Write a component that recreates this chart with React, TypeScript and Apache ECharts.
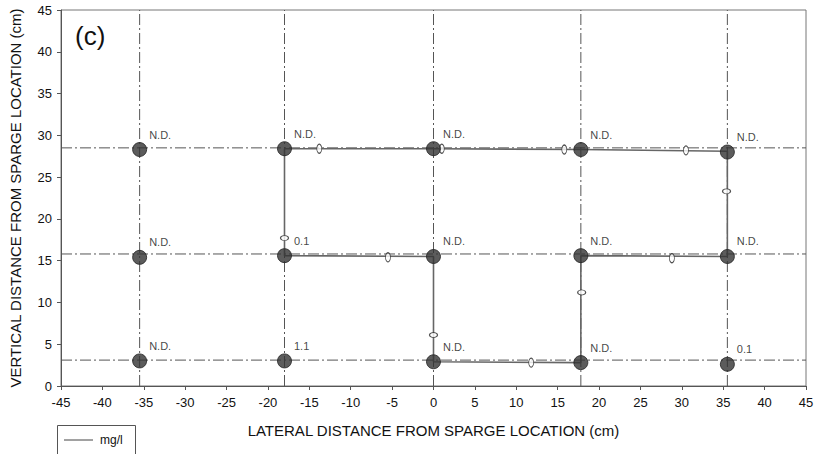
import React, { useEffect, useRef } from "react";
import * as echarts from "echarts";

// Sampling point grid (cm)
const pointX = [-35.5, -18, 0, 17.8, 35.5, -35.5, -18, 0, 17.8, 35.5, -35.5, -18, 0, 17.8, 35.5];
const pointY = [28.3, 28.4, 28.4, 28.3, 28.0, 15.4, 15.6, 15.5, 15.6, 15.5, 3.0, 3.0, 2.9, 2.8, 2.6];
const pointLabels = ["N.D.", "N.D.", "N.D.", "N.D.", "N.D.", "N.D.", "0.1", "N.D.", "N.D.", "N.D.", "N.D.", "1.1", "N.D.", "N.D.", "0.1"];

// Dash-dot reference lines
const refLineX = [-35.5, -18, 0, 17.8, 35.5];
const refLineY = [28.5, 15.8, 3.1];

// 0 mg/l contour path
const contourX = [-18, 0, 17.8, 35.5, 35.5, 17.8, 17.8, 0, 0, -18, -18];
const contourY = [28.4, 28.4, 28.3, 28.1, 15.5, 15.6, 2.8, 2.9, 15.5, 15.6, 28.4];

// "0" contour labels (ovals); orient: "h" on horizontal segments, "v" on vertical ones
const zeroX = [-13.8, 1.0, 15.8, 30.5, 35.4, 28.8, 17.9, 11.8, 0, -5.5, -18];
const zeroY = [28.4, 28.4, 28.3, 28.2, 23.3, 15.3, 11.2, 2.8, 6.1, 15.4, 17.7];
const zeroOrient = ["h", "h", "h", "h", "v", "h", "v", "h", "v", "h", "v"];

const xTicks = { min: -45, max: 45, interval: 5 };
const yTicks = { min: 0, max: 45, interval: 5 };

const FONT = "Liberation Sans, Arial, sans-serif";

export default function App() {
  const ref = useRef<HTMLDivElement>(null);
  useEffect(() => {
    if (!ref.current) return;
    document.body.style.margin = "0";
    const chart = echarts.init(ref.current, null, { renderer: "svg" });
    const dashDot = [11, 3, 2, 3];
    const refSeries: any[] = [];
    refLineX.forEach((x) =>
      refSeries.push({
        type: "line",
        data: [[x, yTicks.min], [x, yTicks.max]],
        symbol: "none",
        silent: true,
        z: 1,
        lineStyle: { color: "#555", width: 1, type: dashDot },
      })
    );
    refLineY.forEach((y) =>
      refSeries.push({
        type: "line",
        data: [[xTicks.min, y], [xTicks.max, y]],
        symbol: "none",
        silent: true,
        z: 1,
        lineStyle: { color: "#555", width: 1, type: dashDot },
      })
    );
    chart.setOption({
      animation: false,
      backgroundColor: "#fff",
      grid: { left: 56, right: 14, top: 10, bottom: 68, show: true, borderColor: "#777", borderWidth: 1 },
      xAxis: {
        type: "value",
        min: xTicks.min,
        max: xTicks.max,
        interval: xTicks.interval,
        name: "LATERAL DISTANCE FROM SPARGE LOCATION (cm)",
        nameLocation: "middle",
        nameGap: 37,
        nameTextStyle: { fontFamily: FONT, fontSize: 15, color: "#111" },
        axisLine: { onZero: false, lineStyle: { color: "#555" } },
        axisTick: { inside: false, length: 4, lineStyle: { color: "#555" } },
        axisLabel: { fontFamily: FONT, fontSize: 13, color: "#111", margin: 10 },
        splitLine: { show: false },
      },
      yAxis: {
        type: "value",
        min: yTicks.min,
        max: yTicks.max,
        interval: yTicks.interval,
        name: "VERTICAL DISTANCE FROM SPARGE LOCATION (cm)",
        nameLocation: "middle",
        nameGap: 38,
        nameTextStyle: { fontFamily: FONT, fontSize: 15, color: "#111" },
        axisLine: { show: true, onZero: false, lineStyle: { color: "#555" } },
        axisTick: { show: true, length: 4, lineStyle: { color: "#555" } },
        axisLabel: { fontFamily: FONT, fontSize: 13, color: "#111", margin: 9 },
        splitLine: { show: false },
      },
      graphic: [
        {
          type: "text",
          left: 75,
          top: 23,
          style: { text: "(c)", font: `26px ${FONT}`, fill: "#111" },
        },
        {
          type: "rect",
          shape: { x: 57.5, y: 425.5, width: 78, height: 40 },
          style: { fill: "#fff", stroke: "#555", lineWidth: 1 },
        },
        {
          type: "line",
          shape: { x1: 64, y1: 440, x2: 93, y2: 440 },
          style: { stroke: "#444", lineWidth: 1 },
        },
        {
          type: "text",
          x: 100,
          y: 440,
          style: { text: "mg/l", font: `12px ${FONT}`, fill: "#111", verticalAlign: "middle" },
        },
      ],
      series: [
        ...refSeries,
        {
          type: "line",
          data: contourX.map((x, i) => [x, contourY[i]]),
          symbol: "none",
          silent: true,
          z: 2,
          lineStyle: { color: "#666", width: 1.6 },
        },
        {
          type: "scatter",
          silent: true,
          z: 3,
          data: zeroX.map((x, i) => ({
            value: [x, zeroY[i]],
            symbolSize: zeroOrient[i] === "h" ? [5, 9] : [8, 5],
          })),
          symbol: "circle",
          itemStyle: { color: "#fff", borderColor: "#222", borderWidth: 1 },
        },
        {
          type: "scatter",
          silent: true,
          z: 4,
          symbol: "circle",
          symbolSize: 14,
          itemStyle: { color: "#333", borderColor: "#222", borderWidth: 1 },
          data: pointX.map((x, i) => ({ value: [x, pointY[i]], name: pointLabels[i] })),
          label: {
            show: true,
            position: "right",
            distance: 5,
            offset: [-3, -15],
            formatter: (p: any) => p.name,
            fontFamily: FONT,
            fontSize: 11,
            color: "#111",
          },
        },
      ],
    });
    return () => chart.dispose();
  }, []);
  return <div ref={ref} style={{ width: 820, height: 454 }} />;
}
